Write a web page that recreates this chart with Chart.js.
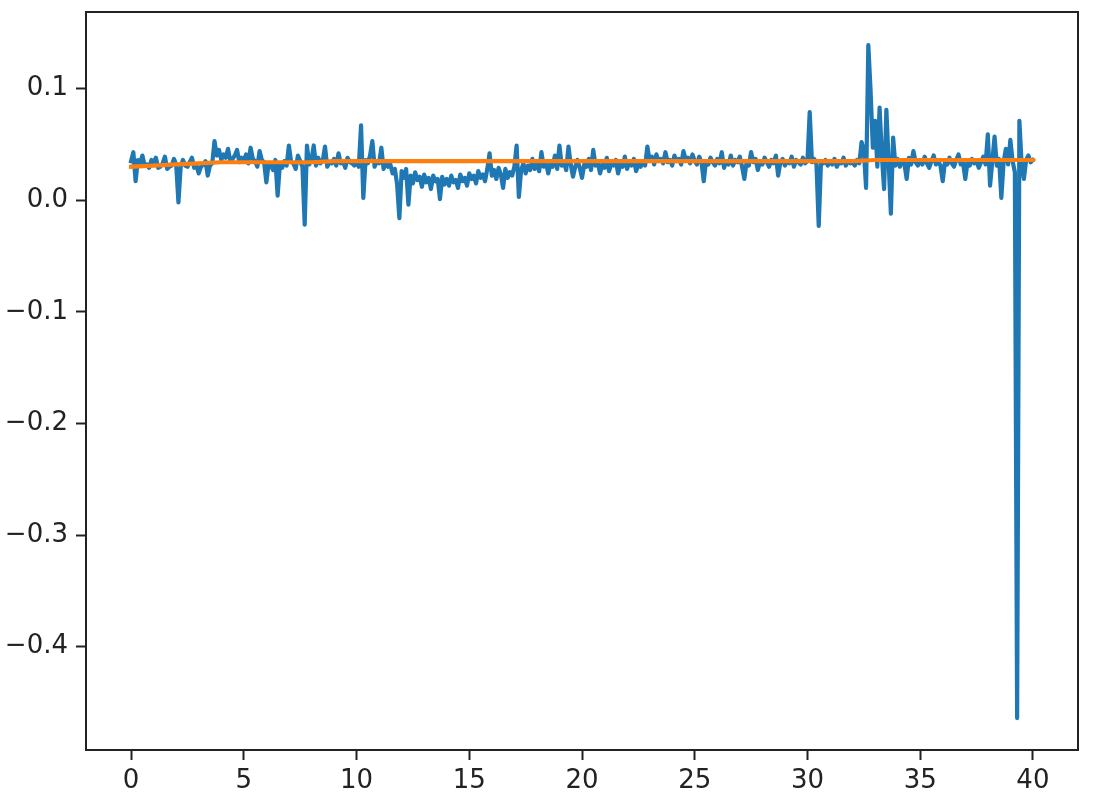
<!DOCTYPE html>
<html>
<head>
  <title>Series and running mean</title>
  <script src="https://cdn.jsdelivr.net/npm/chart.js"></script>
  <style>
    body { margin: 0; background: #fff; }
    canvas { display: block; }
  </style>
</head>
<body>
  <canvas id="mainChart" width="1110" height="810"></canvas>
  <script>
    // raw series, one sample every 0.1 on x, starting at 0
    const rawStep = 0.1;
    const rawValues = [
      0.035, 0.043, 0.017, 0.036, 0.033, 0.040, 0.031, 0.032, 0.029, 0.036,
      0.034, 0.038, 0.029, 0.030, 0.033, 0.039, 0.028, 0.030, 0.031, 0.037,
      0.032, -0.002, 0.030, 0.036, 0.031, 0.030, 0.034, 0.038, 0.029, 0.031,
      0.024, 0.030, 0.032, 0.035, 0.022, 0.031, 0.033, 0.053, 0.040, 0.045,
      0.036, 0.041, 0.038, 0.046, 0.035, 0.037, 0.040, 0.045, 0.034, 0.038,
      0.036, 0.041, 0.033, 0.047, 0.037, 0.035, 0.030, 0.044, 0.036, 0.034,
      0.016, 0.033, 0.031, 0.027, 0.036, 0.004, 0.032, 0.029, 0.035, 0.031,
      0.049, 0.034, 0.033, 0.028, 0.040, 0.035, 0.030, -0.022, 0.049, 0.032,
      0.036, 0.049, 0.031, 0.038, 0.033, 0.035, 0.048, 0.030, 0.034, 0.033,
      0.037, 0.031, 0.042, 0.033, 0.035, 0.029, 0.038, 0.034, 0.033, 0.031,
      0.034, 0.030, 0.067, 0.002, 0.036, 0.033, 0.040, 0.053, 0.030, 0.035,
      0.033, 0.047, 0.028, 0.034, 0.030, 0.032, 0.024, 0.028, 0.014, -0.016,
      0.026, 0.020, 0.028, -0.004, 0.022, 0.015, 0.025, 0.018, 0.021, 0.012,
      0.023, 0.016, 0.020, 0.010, 0.022, 0.017, 0.019, 0.001, 0.021, 0.014,
      0.019, 0.013, 0.022, 0.016, 0.018, 0.011, 0.023, 0.017, 0.020, 0.013,
      0.024, 0.019, 0.022, 0.015, 0.026, 0.020, 0.023, 0.017, 0.028, 0.042,
      0.022, 0.027, 0.019, 0.029, 0.023, 0.011, 0.028, 0.020, 0.025, 0.022,
      0.030, 0.049, 0.003, 0.027, 0.033, 0.024, 0.031, 0.027, 0.037, 0.028,
      0.033, 0.026, 0.043, 0.030, 0.035, 0.024, 0.032, 0.030, 0.040, 0.028,
      0.049, 0.031, 0.034, 0.027, 0.048, 0.032, 0.021, 0.030, 0.036, 0.029,
      0.020, 0.032, 0.030, 0.037, 0.027, 0.045, 0.031, 0.034, 0.024, 0.032,
      0.029, 0.038, 0.026, 0.033, 0.031, 0.036, 0.024, 0.032, 0.030, 0.039,
      0.028, 0.034, 0.031, 0.037, 0.026, 0.032, 0.030, 0.034, 0.031, 0.048,
      0.035, 0.039, 0.032, 0.041, 0.035, 0.037, 0.033, 0.043, 0.034, 0.036,
      0.031, 0.040, 0.035, 0.037, 0.032, 0.044, 0.036, 0.038, 0.033, 0.041,
      0.035, 0.032, 0.039, 0.034, 0.017, 0.035, 0.032, 0.038, 0.034, 0.031,
      0.037, 0.033, 0.043, 0.029, 0.035, 0.032, 0.040, 0.031, 0.036, 0.034,
      0.039, 0.030, 0.019, 0.034, 0.031, 0.043, 0.034, 0.037, 0.027, 0.035,
      0.032, 0.038, 0.034, 0.030, 0.036, 0.033, 0.040, 0.022, 0.034, 0.037,
      0.031, 0.035, 0.033, 0.039, 0.030, 0.036, 0.034, 0.032, 0.038, 0.033,
      0.035, 0.079, 0.034, 0.037, 0.032, -0.023, 0.034, 0.033, 0.036, 0.031,
      0.035, 0.032, 0.037, 0.030, 0.034, 0.033, 0.038, 0.031, 0.035, 0.033,
      0.034, 0.031, 0.036, 0.033, 0.052, 0.045, 0.011, 0.139, 0.098, 0.047,
      0.071, 0.030, 0.083, 0.040, 0.010, 0.081, 0.035, -0.012, 0.056, 0.031,
      0.037, 0.030, 0.035, 0.033, 0.019, 0.038, 0.032, 0.044, 0.034, 0.031,
      0.036, 0.032, 0.039, 0.033, 0.029, 0.035, 0.040, 0.032, 0.035, 0.031,
      0.017, 0.035, 0.032, 0.038, 0.033, 0.030, 0.036, 0.041, 0.032, 0.034,
      0.019, 0.034, 0.031, 0.037, 0.033, 0.035, 0.029, 0.034, 0.039, 0.032,
      0.059, 0.013, 0.035, 0.057, 0.031, 0.037, 0.002, 0.034, 0.046, 0.032,
      0.054, 0.035, 0.025, -0.464, 0.071, 0.032, 0.019, 0.036, 0.040, 0.034,
      0.036
    ];

    // running mean, one value per unit of x
    const meanStep = 1;
    const meanValues = [
      0.030, 0.031, 0.032, 0.033, 0.034, 0.034, 0.034, 0.034, 0.034, 0.035,
      0.035, 0.035, 0.035, 0.035, 0.035, 0.035, 0.035, 0.035, 0.035, 0.035,
      0.035, 0.035, 0.035, 0.035, 0.035, 0.035, 0.035, 0.035, 0.035, 0.035,
      0.035, 0.035, 0.035, 0.036, 0.036, 0.036, 0.036, 0.036, 0.036, 0.036,
      0.036
    ];

    const xTicks = [0, 5, 10, 15, 20, 25, 30, 35, 40];
    const yTicks = [-0.4, -0.3, -0.2, -0.1, 0.0, 0.1];
    const xRange = [-2, 42];
    const yRange = [-0.4926, 0.1686];

    Chart.defaults.font.family = 'DejaVu Sans';
    Chart.defaults.font.size = 26;
    Chart.defaults.color = '#222';

    // top and right spines
    const frame = {
      id: 'frame',
      afterDraw(chart) {
        const a = chart.chartArea, c = chart.ctx;
        c.save();
        c.strokeStyle = '#222';
        c.lineWidth = 2;
        c.strokeRect(a.left, a.top, a.right - a.left, a.bottom - a.top);
        c.restore();
      }
    };

    new Chart(document.getElementById('mainChart'), {
      type: 'line',
      data: {
        datasets: [{
          data: rawValues.map((v, i) => ({ x: i * rawStep, y: v })),
          borderColor: '#1f77b4',
          borderWidth: 4.2,
          borderJoinStyle: 'round',
          borderCapStyle: 'square',
          pointRadius: 0,
          tension: 0,
          order: 2
        }, {
          data: meanValues.map((v, i) => ({ x: i * meanStep, y: v })),
          borderColor: '#ff7f0e',
          borderWidth: 4.2,
          borderJoinStyle: 'round',
          borderCapStyle: 'square',
          pointRadius: 0,
          tension: 0,
          order: 1
        }]
      },
      options: {
        responsive: false,
        animation: false,
        layout: { padding: { top: 12, right: 32, left: 0, bottom: 0 } },
        plugins: { legend: { display: false }, tooltip: { enabled: false } },
        scales: {
          x: {
            type: 'linear',
            min: xRange[0],
            max: xRange[1],
            afterBuildTicks: s => { s.ticks = xTicks.map(v => ({ value: v })); },
            afterFit: s => { s.height = 60; s.paddingLeft = 0; s.paddingRight = 0; },
            grid: { drawOnChartArea: false, tickLength: 10, tickWidth: 2, color: '#222' },
            border: { color: '#222', width: 2 },
            ticks: { padding: 6, maxRotation: 0, callback: v => String(v) }
          },
          y: {
            min: yRange[0],
            max: yRange[1],
            afterBuildTicks: s => { s.ticks = yTicks.map(v => ({ value: v })); },
            afterFit: s => { s.width = 86; s.paddingTop = 0; s.paddingBottom = 0; },
            grid: { drawOnChartArea: false, tickLength: 10, tickWidth: 2, color: '#222' },
            border: { color: '#222', width: 2 },
            ticks: { padding: 8, callback: v => v.toFixed(1).replace('-', '\u2212') }
          }
        }
      },
      plugins: [frame]
    });
  </script>
</body>
</html>
